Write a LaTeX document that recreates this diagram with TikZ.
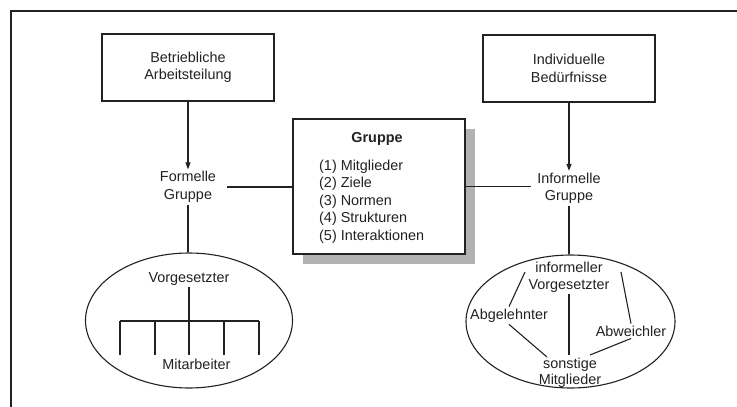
\documentclass[tikz,border=0pt]{standalone}
\usepackage{fontspec}
\setmainfont{Liberation Sans}
\usetikzlibrary{shapes.geometric,arrows.meta}
\definecolor{ink}{HTML}{222222}
\definecolor{shade}{HTML}{B2B2B2}
\tikzset{
  txt/.style={font=\fontsize{14.4}{17.5}\selectfont, text=ink, inner sep=0pt, align=center},
  boxed/.style={txt, draw=ink, line width=1.1pt, minimum width=172pt, minimum height=67pt},
  linkline/.style={draw=ink, line width=1.1pt},
  arrowline/.style={linkline, -{Triangle[length=7pt,width=5pt]}},
  oval/.style={ellipse, draw=ink, line width=1.1pt, inner sep=0pt},
}
\begin{document}
\begin{tikzpicture}[x=1pt,y=-1pt]
\useasboundingbox[fill=white] (0,0) rectangle (737,407);

% page frame
\draw[linkline] (11,407) -- (11,11) -- (737,11);

% sources of the two kinds of group
\node[boxed] (arb) at (188,67.5) {Betriebliche\\Arbeitsteilung};
\node[boxed] (ind) at (569,68.5) {Individuelle\\Bedürfnisse};

% central box with shadow
\node[fill=shade, minimum width=172pt, minimum height=135pt, inner sep=0pt] (grpshadow) at (389,196.5) {};
\node[fill=white, draw=ink, line width=1.1pt, minimum width=172pt, minimum height=135pt, inner sep=0pt] (grp) at (379,186.5) {};
\node[txt, font=\fontsize{14.4}{17.5}\selectfont\bfseries] (title) at (377,138.5) {Gruppe};
\node[txt, align=left, anchor=west] (items) at (319,201.5) {(1) Mitglieder\\(2) Ziele\\(3) Normen\\(4) Strukturen\\(5) Interaktionen};

% formal / informal group labels
\node[txt, inner xsep=11pt, inner ysep=2pt] (formell) at (188,187) {Formelle\\Gruppe};
\node[txt, inner xsep=6pt, inner ysep=2pt] (informell) at (569,188.5) {Informelle\\Gruppe};

\draw[arrowline] (arb.south) -- (formell.north);
\draw[arrowline] (ind.south) -- (informell.north);
\draw[linkline] (formell.east) -- (formell.east -| grp.west);
\draw[linkline] (grp.east) -- (grp.east -| informell.west);

% formal structure
\node[oval, minimum width=207pt, minimum height=135pt] (lell) at (189,320.5) {};
\node[oval, minimum width=209pt, minimum height=133pt] (rell) at (570.5,321.5) {};
\draw[linkline] (formell.south) -- (formell.south |- lell.north);
\draw[linkline] (informell.south) -- (informell.south |- rell.north);

\node[txt, inner ysep=1pt] (vorg) at (189,279.5) {Vorgesetzter};
\node[txt] (mitarb) at (196.5,364) {Mitarbeiter};
\coordinate (hub) at (189,321);
\foreach \i/\x in {1/120,2/155,3/189,4/224,5/259} {
  \coordinate (top\i) at (\x,321);
  \coordinate (leg\i) at (\x,355);
}
\draw[linkline] (vorg.south) -- (hub);
\draw[linkline] (top1) -- (top5);
\foreach \i in {1,...,5} \draw[linkline] (top\i) -- (leg\i);

% informal structure
\node[txt, inner ysep=0.5pt] (infv) at (569,277.5) {informeller\\Vorgesetzter};
\node[txt, inner sep=2pt] (abg) at (509,315.5) {Abgelehnter};
\node[txt, inner sep=2pt] (abw) at (631,331) {Abweichler};
\node[txt, inner ysep=3pt, font=\fontsize{14.4}{16}\selectfont] (son) at (570,372.5) {sonstige\\Mitglieder};
\coordinate (infL) at (525,272);
\coordinate (infR) at (621,272);
\coordinate (sonL) at (547,357);
\coordinate (sonR) at (590,355);
\draw[linkline] (infL) -- (abg.north);
\draw[linkline] (infR) -- (abw.north);
\draw[linkline] (infv.south) -- (infv.south |- son.north);
\draw[linkline] (abg.south) -- (sonL);
\draw[linkline] (abw.south) -- (sonR);
\end{tikzpicture}
\end{document}
